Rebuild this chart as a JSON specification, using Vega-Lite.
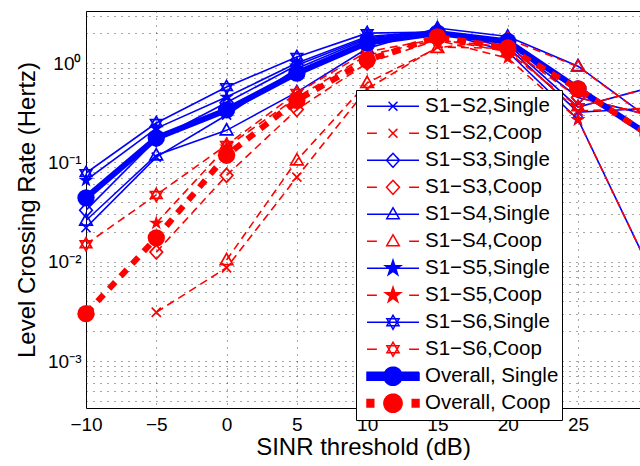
{
  "$schema": "https://vega.github.io/schema/vega-lite/v6.json",
  "width": 554,
  "height": 397,
  "autosize": {"type": "none"},
  "padding": {"left": 86, "top": 11, "right": 0, "bottom": 58},
  "background": "white",
  "config": {
    "view": {"stroke": "black", "strokeWidth": 1},
    "font": "Liberation Sans",
    "axis": {"labelFont": "Liberation Sans", "titleFont": "Liberation Sans", "labelColor": "black", "titleColor": "black", "titleFontWeight": "normal", "domain": false, "ticks": false, "grid": true, "gridColor": "#222", "gridDash": [1, 6], "gridWidth": 1, "gridOpacity": 0.8, "labelFlush": false}
  },
  "data": {"values": [
    {"x": -10, "y": 0.022, "series": "S1−S2,Single"},
    {"x": -5, "y": 0.113, "series": "S1−S2,Single"},
    {"x": 0, "y": 0.30, "series": "S1−S2,Single"},
    {"x": 5, "y": 0.88, "series": "S1−S2,Single"},
    {"x": 10, "y": 1.75, "series": "S1−S2,Single"},
    {"x": 15, "y": 2.05, "series": "S1−S2,Single"},
    {"x": 20, "y": 1.45, "series": "S1−S2,Single"},
    {"x": 25, "y": 0.32, "series": "S1−S2,Single"},
    {"x": 30, "y": 0.35, "series": "S1−S2,Single"},

    {"x": -5, "y": 0.0031, "series": "S1−S2,Coop"},
    {"x": 0, "y": 0.0087, "series": "S1−S2,Coop"},
    {"x": 5, "y": 0.071, "series": "S1−S2,Coop"},
    {"x": 10, "y": 0.55, "series": "S1−S2,Coop"},
    {"x": 15, "y": 1.45, "series": "S1−S2,Coop"},
    {"x": 20, "y": 1.4, "series": "S1−S2,Coop"},
    {"x": 25, "y": 0.33, "series": "S1−S2,Coop"},
    {"x": 30, "y": 0.35, "series": "S1−S2,Coop"},

    {"x": -10, "y": 0.033, "series": "S1−S3,Single"},
    {"x": -5, "y": 0.17, "series": "S1−S3,Single"},
    {"x": 0, "y": 0.40, "series": "S1−S3,Single"},
    {"x": 5, "y": 0.95, "series": "S1−S3,Single"},
    {"x": 10, "y": 1.8, "series": "S1−S3,Single"},
    {"x": 15, "y": 2.1, "series": "S1−S3,Single"},
    {"x": 20, "y": 1.6, "series": "S1−S3,Single"},
    {"x": 25, "y": 0.45, "series": "S1−S3,Single"},
    {"x": 30, "y": 0.3, "series": "S1−S3,Single"},

    {"x": -5, "y": 0.0125, "series": "S1−S3,Coop"},
    {"x": 0, "y": 0.074, "series": "S1−S3,Coop"},
    {"x": 5, "y": 0.34, "series": "S1−S3,Coop"},
    {"x": 10, "y": 1.0, "series": "S1−S3,Coop"},
    {"x": 15, "y": 1.7, "series": "S1−S3,Coop"},
    {"x": 20, "y": 1.45, "series": "S1−S3,Coop"},
    {"x": 25, "y": 0.45, "series": "S1−S3,Coop"},
    {"x": 30, "y": 0.3, "series": "S1−S3,Coop"},

    {"x": -10, "y": 0.026, "series": "S1−S4,Single"},
    {"x": -5, "y": 0.118, "series": "S1−S4,Single"},
    {"x": 0, "y": 0.21, "series": "S1−S4,Single"},
    {"x": 5, "y": 0.51, "series": "S1−S4,Single"},
    {"x": 10, "y": 1.4, "series": "S1−S4,Single"},
    {"x": 15, "y": 2.25, "series": "S1−S4,Single"},
    {"x": 20, "y": 1.85, "series": "S1−S4,Single"},
    {"x": 25, "y": 0.93, "series": "S1−S4,Single"},
    {"x": 30, "y": 0.28, "series": "S1−S4,Single"},

    {"x": 0, "y": 0.0104, "series": "S1−S4,Coop"},
    {"x": 5, "y": 0.105, "series": "S1−S4,Coop"},
    {"x": 10, "y": 0.63, "series": "S1−S4,Coop"},
    {"x": 15, "y": 1.42, "series": "S1−S4,Coop"},
    {"x": 20, "y": 1.75, "series": "S1−S4,Coop"},
    {"x": 25, "y": 0.92, "series": "S1−S4,Coop"},
    {"x": 30, "y": 0.28, "series": "S1−S4,Coop"},

    {"x": -10, "y": 0.066, "series": "S1−S5,Single"},
    {"x": -5, "y": 0.22, "series": "S1−S5,Single"},
    {"x": 0, "y": 0.455, "series": "S1−S5,Single"},
    {"x": 5, "y": 1.0, "series": "S1−S5,Single"},
    {"x": 10, "y": 1.85, "series": "S1−S5,Single"},
    {"x": 15, "y": 2.1, "series": "S1−S5,Single"},
    {"x": 20, "y": 1.3, "series": "S1−S5,Single"},
    {"x": 25, "y": 0.27, "series": "S1−S5,Single"},
    {"x": 30, "y": 0.009, "series": "S1−S5,Single"},

    {"x": -5, "y": 0.0245, "series": "S1−S5,Coop"},
    {"x": 0, "y": 0.143, "series": "S1−S5,Coop"},
    {"x": 5, "y": 0.45, "series": "S1−S5,Coop"},
    {"x": 10, "y": 1.2, "series": "S1−S5,Coop"},
    {"x": 15, "y": 1.7, "series": "S1−S5,Coop"},
    {"x": 20, "y": 1.12, "series": "S1−S5,Coop"},
    {"x": 25, "y": 0.27, "series": "S1−S5,Coop"},
    {"x": 30, "y": 0.009, "series": "S1−S5,Coop"},

    {"x": -10, "y": 0.078, "series": "S1−S6,Single"},
    {"x": -5, "y": 0.249, "series": "S1−S6,Single"},
    {"x": 0, "y": 0.573, "series": "S1−S6,Single"},
    {"x": 5, "y": 1.15, "series": "S1−S6,Single"},
    {"x": 10, "y": 2.0, "series": "S1−S6,Single"},
    {"x": 15, "y": 2.05, "series": "S1−S6,Single"},
    {"x": 20, "y": 1.55, "series": "S1−S6,Single"},
    {"x": 25, "y": 0.36, "series": "S1−S6,Single"},
    {"x": 30, "y": 0.56, "series": "S1−S6,Single"},

    {"x": -10, "y": 0.015, "series": "S1−S6,Coop"},
    {"x": -5, "y": 0.047, "series": "S1−S6,Coop"},
    {"x": 0, "y": 0.15, "series": "S1−S6,Coop"},
    {"x": 5, "y": 0.5, "series": "S1−S6,Coop"},
    {"x": 10, "y": 1.3, "series": "S1−S6,Coop"},
    {"x": 15, "y": 1.75, "series": "S1−S6,Coop"},
    {"x": 20, "y": 1.3, "series": "S1−S6,Coop"},
    {"x": 25, "y": 0.36, "series": "S1−S6,Coop"},
    {"x": 30, "y": 0.56, "series": "S1−S6,Coop"},

    {"x": -10, "y": 0.044, "series": "Overall, Single"},
    {"x": -5, "y": 0.176, "series": "Overall, Single"},
    {"x": 0, "y": 0.337, "series": "Overall, Single"},
    {"x": 5, "y": 0.79, "series": "Overall, Single"},
    {"x": 10, "y": 1.6, "series": "Overall, Single"},
    {"x": 15, "y": 2.0, "series": "Overall, Single"},
    {"x": 20, "y": 1.65, "series": "Overall, Single"},
    {"x": 25, "y": 0.55, "series": "Overall, Single"},
    {"x": 30, "y": 0.19, "series": "Overall, Single"},

    {"x": -10, "y": 0.003, "series": "Overall, Coop"},
    {"x": -5, "y": 0.0174, "series": "Overall, Coop"},
    {"x": 0, "y": 0.118, "series": "Overall, Coop"},
    {"x": 5, "y": 0.42, "series": "Overall, Coop"},
    {"x": 10, "y": 1.07, "series": "Overall, Coop"},
    {"x": 15, "y": 1.83, "series": "Overall, Coop"},
    {"x": 20, "y": 1.42, "series": "Overall, Coop"},
    {"x": 25, "y": 0.55, "series": "Overall, Coop"},
    {"x": 30, "y": 0.19, "series": "Overall, Coop"}
  ]},
  "encoding": {
    "x": {"field": "x", "type": "quantitative", "scale": {"domain": [-10, 29.41], "nice": false, "zero": false},
      "axis": {"values": [-10, -5, 0, 5, 10, 15, 20, 25], "title": "SINR threshold (dB)", "labelFontSize": 19, "labelPadding": 7, "titleFontSize": 24, "titlePadding": 1}},
    "y": {"field": "y", "type": "quantitative", "scale": {"type": "log", "domain": [0.000337, 3.34], "nice": false},
      "axis": {"values": [0.0004, 0.0005, 0.0006, 0.0007, 0.0008, 0.0009, 0.001, 0.002, 0.003, 0.004, 0.005, 0.006, 0.007, 0.008, 0.009, 0.01, 0.02, 0.03, 0.04, 0.05, 0.06, 0.07, 0.08, 0.09, 0.1, 0.2, 0.3, 0.4, 0.5, 0.6, 0.7, 0.8, 0.9, 1, 2, 3],
        "labelExpr": "datum.value == 1 ? '10⁰' : datum.value == 0.1 ? '10⁻¹' : datum.value == 0.01 ? '10⁻²' : datum.value == 0.001 ? '10⁻³' : ''",
        "title": "Level Crossing Rate (Hertz)", "labelFontSize": 19, "labelPadding": 5, "titleFontSize": 24, "titlePadding": 8}},
    "color": {"field": "series", "type": "nominal",
      "scale": {"domain": ["S1−S2,Single", "S1−S2,Coop", "S1−S3,Single", "S1−S3,Coop", "S1−S4,Single", "S1−S4,Coop", "S1−S5,Single", "S1−S5,Coop", "S1−S6,Single", "S1−S6,Coop", "Overall, Single", "Overall, Coop"],
        "range": ["#0000ff", "#ff0000", "#0000ff", "#ff0000", "#0000ff", "#ff0000", "#0000ff", "#ff0000", "#0000ff", "#ff0000", "#0000ff", "#ff0000"]},
      "legend": {
        "orient": "none", "legendX": 270, "legendY": 79, "title": null,
        "padding": 3, "fillColor": "white", "strokeColor": "black",
        "clipHeight": 26.5, "rowPadding": 0, "symbolSize": 2704, "symbolStrokeWidth": 1.5,
        "symbolOffset": 7, "labelOffset": 5, "labelFontSize": 20.5, "labelFont": "Liberation Sans", "labelColor": "black", "labelLimit": 0,
        "encode": {"symbols": {"update": {
          "shape": {"signal": "(indexof(datum.value,'Overall')>=0 ? ((indexof(datum.value,'Single')>=0 ? 'M-1,-0.15L1,-0.15L1,0.15L-1,0.15Z' : 'M-1,-0.14L-0.74,-0.14L-0.74,0.14L-1,0.14ZM0.74,-0.14L1,-0.14L1,0.14L0.74,0.14Z') + 'M-0.35,0A0.35,0.35,0,1,1,0.35,0A0.35,0.35,0,1,1,-0.35,0Z') : ((indexof(datum.value,'Single')>=0 ? 'M-1,0L1,0' : 'M-1,0L-0.62,0M0.62,0L1,0') + (indexof(datum.value,'S2')>=0 ? 'M-0.17,-0.17L0.17,0.17M-0.17,0.17L0.17,-0.17' : indexof(datum.value,'S3')>=0 ? 'M0,-0.27L0.25,0L0,0.27L-0.25,0Z' : indexof(datum.value,'S4')>=0 ? 'M0,-0.25L0.24,0.17L-0.24,0.17Z' : indexof(datum.value,'S5')>=0 ? 'M0,-0.31L0.07,-0.096L0.295,-0.096L0.113,0.037L0.182,0.251L0,0.118L-0.182,0.251L-0.113,0.037L-0.295,-0.096L-0.07,-0.096Z' : 'M0,-0.27L0.234,0.135L-0.234,0.135ZM0,0.27L0.234,-0.135L-0.234,-0.135Z')))"},
          "fill": {"signal": "indexof(datum.value,'Single')>=0 ? '#0000ff' : '#ff0000'"},
          "fillOpacity": {"signal": "(indexof(datum.value,'Overall')>=0 || indexof(datum.value,'S5')>=0) ? 1 : 0"},
          "stroke": {"signal": "indexof(datum.value,'Single')>=0 ? '#0000ff' : '#ff0000'"},
          "strokeDash": {"value": [1, 0]},
          "strokeWidth": {"value": 1.5},
          "size": {"value": 2704},
          "opacity": {"value": 1}
        }}}
      }
    }
  },
  "layer": [
    {"transform": [{"filter": "indexof(datum.series,'S1')>=0 && indexof(datum.series,'Single')>=0"}],
     "mark": {"type": "line", "strokeWidth": 1.6, "clip": true}},
    {"transform": [{"filter": "indexof(datum.series,'S1')>=0 && indexof(datum.series,'Coop')>=0"}],
     "mark": {"type": "line", "strokeWidth": 1.6, "strokeDash": [8, 5], "clip": true}},
    {"transform": [{"filter": "indexof(datum.series,'S1')>=0 && indexof(datum.series,'S5')<0"}],
     "mark": {"type": "point", "filled": false, "size": 196, "strokeWidth": 1.7, "opacity": 1},
     "encoding": {"shape": {"field": "series", "type": "nominal", "legend": null,
       "scale": {"domain": ["S1−S2,Single", "S1−S2,Coop", "S1−S3,Single", "S1−S3,Coop", "S1−S4,Single", "S1−S4,Coop", "S1−S5,Single", "S1−S5,Coop", "S1−S6,Single", "S1−S6,Coop"],
         "range": ["M-0.65,-0.65L0.65,0.65M-0.65,0.65L0.65,-0.65", "M-0.65,-0.65L0.65,0.65M-0.65,0.65L0.65,-0.65", "M0,-1L0.9,0L0,1L-0.9,0Z", "M0,-1L0.9,0L0,1L-0.9,0Z", "M0,-0.95L0.9,0.65L-0.9,0.65Z", "M0,-0.95L0.9,0.65L-0.9,0.65Z", "M0,-1.1L0.247,-0.34L1.046,-0.34L0.4,0.13L0.647,0.89L0,0.42L-0.647,0.89L-0.4,0.13L-1.046,-0.34L-0.247,-0.34Z", "M0,-1.1L0.247,-0.34L1.046,-0.34L0.4,0.13L0.647,0.89L0,0.42L-0.647,0.89L-0.4,0.13L-1.046,-0.34L-0.247,-0.34Z", "M0,-0.95L0.823,0.475L-0.823,0.475ZM0,0.95L0.823,-0.475L-0.823,-0.475Z", "M0,-0.95L0.823,0.475L-0.823,0.475ZM0,0.95L0.823,-0.475L-0.823,-0.475Z"]}}}},
    {"transform": [{"filter": "indexof(datum.series,'S5')>=0"}],
     "mark": {"type": "point", "filled": true, "size": 196, "strokeWidth": 1.2, "opacity": 1},
     "encoding": {"shape": {"field": "series", "type": "nominal", "legend": null}}},
    {"transform": [{"filter": "datum.series == 'Overall, Single'"}],
     "mark": {"type": "line", "strokeWidth": 6, "clip": true}},
    {"transform": [{"filter": "datum.series == 'Overall, Single'"}],
     "mark": {"type": "point", "shape": "circle", "filled": true, "size": 300, "opacity": 1}},
    {"transform": [{"filter": "datum.series == 'Overall, Coop'"}],
     "mark": {"type": "line", "strokeWidth": 6, "strokeDash": [9, 8], "clip": true}},
    {"transform": [{"filter": "datum.series == 'Overall, Coop'"}],
     "mark": {"type": "point", "shape": "circle", "filled": true, "size": 300, "opacity": 1}}
  ]
}
